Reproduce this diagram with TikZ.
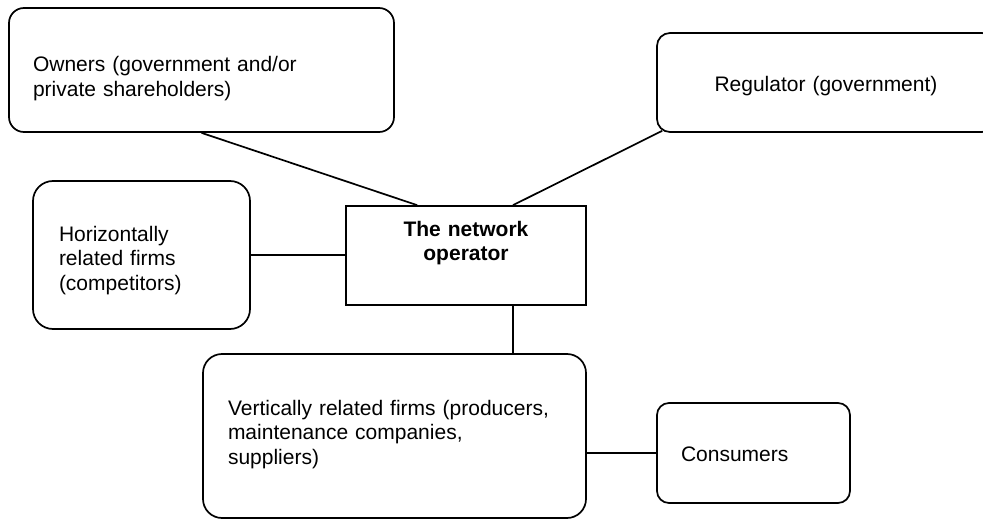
\documentclass[tikz,border=0pt]{standalone}
\usepackage{fontspec}
\setmainfont{Liberation Sans}

\begin{document}
\begin{tikzpicture}[
                x=1pt, y=-1pt,                % pixel-like units, y downwards
                every node/.style={
                    draw,
                    line width=1.7pt,
                    inner sep=0pt,
                    font=\fontsize{21}{24.5}\selectfont
                },
                rbox/.style={rounded corners=#1},
                rbox/.default=15pt,
                link/.style={line width=1.7pt}
            ]
                \useasboundingbox (0,0) rectangle (983,527);
                \clip (0,0) rectangle (983,527);

                % boxes
                \node[rbox, minimum width=385pt, minimum height=124pt, inner xsep=24pt, text width=337pt,
                      align=left, text height=16pt, text depth=12.6pt] (owners) at (201.5,70)
                      {Owners (government and/or\\private shareholders)};
                \node[rbox=13pt, minimum width=338pt, minimum height=99pt, text width=338pt,
                      align=center, text height=20pt, text depth=1.6pt] (regulator) at (826,82.5)
                      {Regulator (government)};
                \node[rbox=20pt, minimum width=217pt, minimum height=148pt, inner xsep=26pt, text width=165pt,
                      align=left, text height=15pt, text depth=43pt] (horiz) at (141.5,255)
                      {Horizontally\\related firms\\(competitors)};
                \node[minimum width=240pt, minimum height=99pt, text width=240pt,
                      align=center, text height=15pt, text depth=54pt,
                      font=\fontsize{21}{24.5}\selectfont\bfseries] (operator) at (466,255.5)
                      {The network\\operator};
                \node[rbox=19pt, minimum width=383pt, minimum height=164pt, inner xsep=25pt, text width=333pt,
                      align=left, text height=15pt, text depth=57pt] (vertical) at (394.5,436)
                      {Vertically related firms (producers,\\maintenance companies,\\suppliers)};
                \node[rbox=12pt, minimum width=193pt, minimum height=100pt, inner xsep=24pt, text width=145pt,
                      align=left, text height=18pt, text depth=0.6pt] (consumers) at (753.5,453)
                      {Consumers};

                % links
                \draw[link] (owners.south) -- ([xshift=72pt]operator.north west);
                \draw[link] ([xshift=6pt,yshift=2pt]regulator.south west) -- ([xshift=47pt]operator.north);
                \draw[link] (horiz.east) -- (horiz.east -| operator.west);
                \draw[link] ([xshift=47pt]operator.south) -- ([xshift=47pt]operator.south |- vertical.north);
                \draw[link] (vertical.east |- consumers.west) -- (consumers.west);
            \end{tikzpicture}
\end{document}
